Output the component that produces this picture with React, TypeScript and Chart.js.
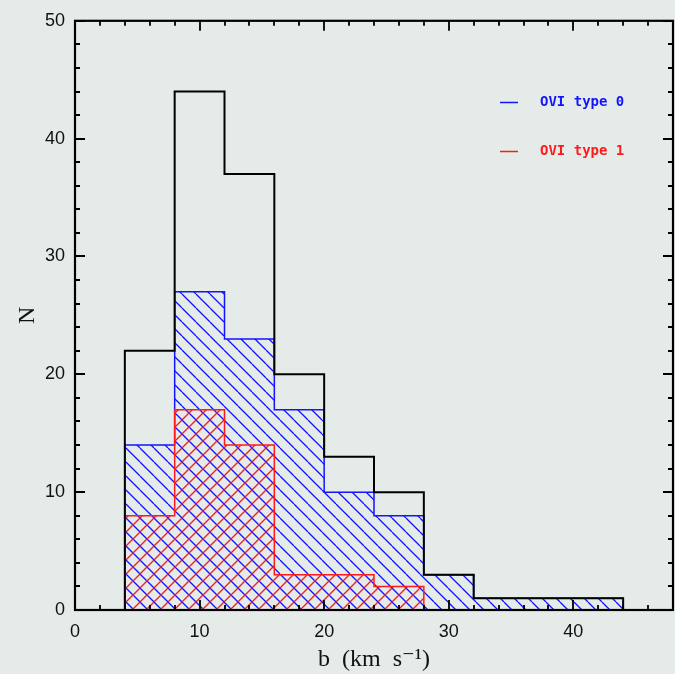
import React, { useEffect, useRef } from "react";
import { Chart, registerables } from "chart.js";

Chart.register(...registerables);

// ---- data ----
const binEdges = [4, 8, 12, 16, 20, 24, 28, 32, 36, 40, 44];
const totalCounts = [22, 44, 37, 20, 13, 10, 3, 1, 1, 1];
const type0Counts = [14, 27, 23, 17, 10, 8, 3, 1, 1, 1];
const type1Counts = [8, 17, 14, 3, 3, 2];
const xTickValues = [0, 10, 20, 30, 40];
const yTickValues = [0, 10, 20, 30, 40, 50];
const legendLabels = ["OVI type 0", "OVI type 1"];
const xTitle = "b  (km  s\u207B\u00B9)";
const yTitle = "N";

const BG = "#e4ebe8";
const BLUE = "#1414ff";
const RED = "#ff1a1a";

function steps(edges: number[], counts: number[]) {
  const n = counts.length;
  const pts: { x: number; y: number }[] = [{ x: edges[0], y: 0 }];
  for (let i = 0; i < n; i++) pts.push({ x: edges[i], y: counts[i] });
  pts.push({ x: edges[n], y: counts[n - 1] });
  pts.push({ x: edges[n], y: 0 });
  return pts;
}

function makePattern(ctx: CanvasRenderingContext2D, color: string, dir: "back" | "fwd") {
  const s = 14;
  const c = document.createElement("canvas");
  c.width = s;
  c.height = s;
  const p = c.getContext("2d")!;
  p.strokeStyle = color;
  p.lineWidth = 1.3;
  for (const k of [-1, 0, 1]) {
    p.beginPath();
    if (dir === "back") {
      p.moveTo(k * s, 0);
      p.lineTo(k * s + s, s);
    } else {
      p.moveTo(k * s, s);
      p.lineTo(k * s + s, 0);
    }
    p.stroke();
  }
  return ctx.createPattern(c, "repeat")!;
}

const framePlugin = {
  id: "frame",
  beforeDraw(chart: any) {
    const ctx = chart.ctx;
    ctx.save();
    ctx.fillStyle = BG;
    ctx.fillRect(0, 0, chart.width, chart.height);
    ctx.restore();
  },
  afterDraw(chart: any) {
    const ctx = chart.ctx;
    const { left, right, top, bottom } = chart.chartArea;
    const xs = chart.scales.x;
    const ys = chart.scales.y;
    ctx.save();
    ctx.strokeStyle = "#000";
    ctx.lineWidth = 1.8;
    for (let v = 0; v <= 48; v += 2) {
      const px = Math.round(xs.getPixelForValue(v));
      const len = v % 10 === 0 ? 10 : 5;
      ctx.beginPath();
      ctx.moveTo(px, bottom);
      ctx.lineTo(px, bottom - len);
      ctx.moveTo(px, top);
      ctx.lineTo(px, top + len);
      ctx.stroke();
    }
    for (let v = 0; v <= 50; v += 2) {
      const py = Math.round(ys.getPixelForValue(v));
      const len = v % 10 === 0 ? 10 : 5;
      ctx.beginPath();
      ctx.moveTo(left, py);
      ctx.lineTo(left + len, py);
      ctx.moveTo(right, py);
      ctx.lineTo(right - len, py);
      ctx.stroke();
    }
    ctx.lineWidth = 2.2;
    ctx.strokeRect(left, top, right - left, bottom - top);

    // axis titles
    ctx.fillStyle = "#111";
    ctx.font = "24px 'Liberation Serif', 'DejaVu Serif', serif";
    ctx.textAlign = "center";
    ctx.textBaseline = "middle";
    ctx.fillText(xTitle, (left + right) / 2, 660);
    ctx.save();
    ctx.translate(28, (top + bottom) / 2);
    ctx.rotate(-Math.PI / 2);
    ctx.fillText(yTitle, 0, 0);
    ctx.restore();

    // legend
    const colors = [BLUE, RED];
    const ly = [102, 151];
    ctx.font = "bold 14px 'DejaVu Sans Mono', 'Liberation Mono', monospace";
    ctx.textAlign = "left";
    for (let i = 0; i < legendLabels.length; i++) {
      ctx.strokeStyle = colors[i];
      ctx.lineWidth = 1.5;
      ctx.beginPath();
      ctx.moveTo(500, ly[i] + 0.5);
      ctx.lineTo(518, ly[i] + 0.5);
      ctx.stroke();
      ctx.fillStyle = colors[i];
      ctx.fillText(legendLabels[i], 540, ly[i]);
    }
    ctx.restore();
  },
};

export default function App() {
  const ref = useRef<HTMLCanvasElement | null>(null);
  useEffect(() => {
    const canvas = ref.current!;
    const ctx = canvas.getContext("2d")!;
    const bluePat = makePattern(ctx, BLUE, "back");
    const redPat = makePattern(ctx, RED, "fwd");
    const chart = new Chart(canvas, {
      type: "line",
      data: {
        datasets: [
          {
            label: "total",
            data: steps(binEdges, totalCounts),
            borderColor: "#000",
            borderWidth: 2,
            fill: false,
            stepped: "before",
            pointRadius: 0,
            order: 0,
          },
          {
            label: legendLabels[1],
            data: steps(binEdges, type1Counts),
            borderColor: RED,
            borderWidth: 1.5,
            backgroundColor: redPat,
            fill: "origin",
            stepped: "before",
            pointRadius: 0,
            order: 1,
          },
          {
            label: legendLabels[0],
            data: steps(binEdges, type0Counts),
            borderColor: BLUE,
            borderWidth: 1.5,
            backgroundColor: bluePat,
            fill: "origin",
            stepped: "before",
            pointRadius: 0,
            order: 2,
          },
        ] as any,
      },
      options: {
        animation: false,
        responsive: false,
        devicePixelRatio: 1,
        layout: { padding: { left: 0, top: 10, right: 2, bottom: 0 } },
        plugins: { legend: { display: false }, tooltip: { enabled: false } },
        scales: {
          x: {
            type: "linear",
            min: 0,
            max: 48,
            grid: { display: false, drawTicks: false },
            border: { display: false },
            afterFit: (s: any) => {
              s.height = 64;
            },
            afterBuildTicks: (s: any) => {
              s.ticks = xTickValues.map((v) => ({ value: v }));
            },
            ticks: {
              autoSkip: false,
              maxRotation: 0,
              padding: 11,
              color: "#111",
              font: { family: "'Liberation Sans', Arial, sans-serif", size: 18 },
            },
          },
          y: {
            type: "linear",
            min: 0,
            max: 50,
            grid: { display: false, drawTicks: false },
            border: { display: false },
            afterFit: (s: any) => {
              s.width = 75;
            },
            afterBuildTicks: (s: any) => {
              s.ticks = yTickValues.map((v) => ({ value: v }));
            },
            ticks: {
              autoSkip: false,
              padding: 10,
              color: "#111",
              font: { family: "'Liberation Sans', Arial, sans-serif", size: 18 },
            },
          },
        },
      } as any,
      plugins: [framePlugin],
    });
    return () => chart.destroy();
  }, []);
  return (
    <div style={{ position: "absolute", left: 0, top: 0, width: 675, height: 674 }}>
      <canvas ref={ref} width={675} height={674} style={{ display: "block" }} />
    </div>
  );
}
